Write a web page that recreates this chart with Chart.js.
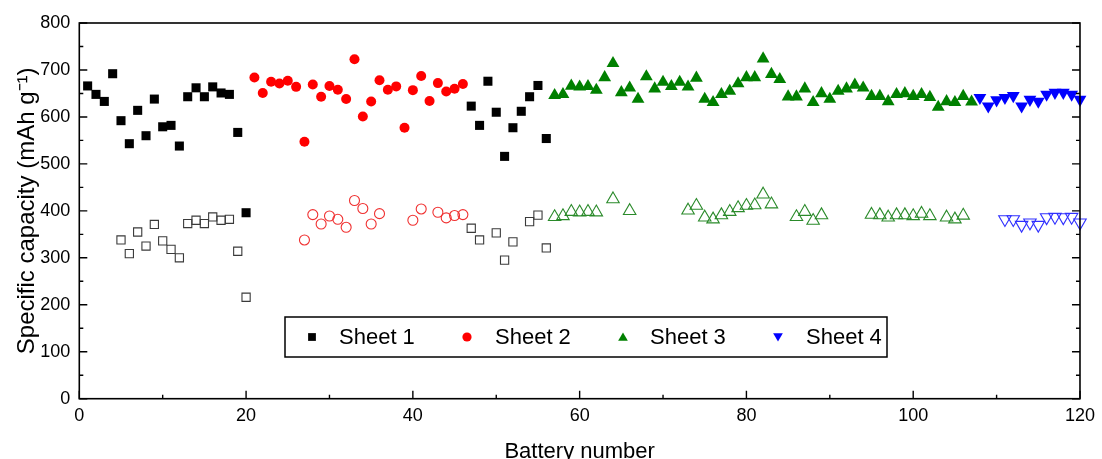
<!DOCTYPE html>
<html>
<head>
<meta charset="utf-8">
<script src="https://cdn.jsdelivr.net/npm/chart.js@4"></script>
<style>
  html, body { margin: 0; padding: 0; background: #fff; overflow: hidden; }
  #wrap { position: relative; width: 1102px; height: 475px; }
</style>
</head>
<body>
<div id="wrap"><canvas id="chart"></canvas></div>
<script>
// battery numbers and capacities
const sheet1Battery = [1,2,3,4,5,6,7,8,9,10,11,12,13,14,15,16,17,18,19,20,47,48,49,50,51,52,53,54,55,56];
const sheet1Charge = [666,648,633,692,592,543,614,560,638,579,582,538,643,662,643,664,651,648,567,396,623,582,676,610,516,577,612,643,667,554];
const sheet1OpenBattery = [5,6,7,8,9,10,11,12,13,14,15,16,17,18,19,20,47,48,50,51,52,54,55,56];
const sheet1Open = [338,309,355,325,371,336,318,300,373,380,373,387,380,382,314,216,363,338,353,295,334,377,391,321];

const sheet2Battery = [21,22,23,24,25,26,27,28,29,30,31,32,33,34,35,36,37,38,39,40,41,42,43,44,45,46];
const sheet2Charge = [684,651,675,671,677,664,547,669,643,666,658,638,723,601,633,678,658,665,577,657,687,634,672,654,660,670];
const sheet2OpenBattery = [27,28,29,30,31,32,33,34,35,36,40,41,43,44,45,46];
const sheet2Open = [338,392,372,389,382,365,422,405,372,394,380,404,397,385,390,392];

const sheet3Battery = [57,58,59,60,61,62,63,64,65,66,67,68,69,70,71,72,73,74,75,76,77,78,79,80,81,82,
  83,84,85,86,87,88,89,90,91,92,93,94,95,96,97,98,99,100,101,102,103,104,105,106,107];
const sheet3Charge = [646,648,666,664,665,657,684,714,652,662,638,686,660,674,665,674,664,683,638,631,648,655,671,684,684,724,
  691,680,643,643,660,631,650,638,655,660,668,662,644,644,633,648,650,644,648,642,621,633,631,644,632];
const sheet3OpenBattery = [57,58,59,60,61,62,64,66,73,74,75,76,77,78,79,80,81,82,83,86,87,88,89,95,96,97,98,99,100,101,102,104,105,106];
const sheet3Open = [387,389,398,397,398,397,425,400,401,411,386,382,391,398,406,411,412,435,414,387,398,379,391,392,391,386,391,391,389,394,389,386,382,390];

const sheet4Battery = [108,109,110,111,112,113,114,115,116,117,118,119,120];
const sheet4Charge = [641,623,636,641,645,623,637,633,648,652,652,648,637];
const sheet4OpenBattery = [111,112,113,114,115,116,117,118,119,120];
const sheet4Open = [382,382,370,375,370,386,387,386,387,375];

const sheetNames = ['Sheet 1', 'Sheet 2', 'Sheet 3', 'Sheet 4'];
const xTickValues = [0, 20, 40, 60, 80, 100, 120];
const yTickValues = [0, 100, 200, 300, 400, 500, 600, 700, 800];

const FONT = 'Liberation Sans, Arial, sans-serif';

function toPoints(xs, ys) {
    return xs.map((x, i) => ({ x: x, y: ys[i] }));
}

// filled = charge marks, open = the lower value set
const styles = [
    { color: '#000000', open: '#3a3a3a', pointStyle: 'rect', rotation: 0, radius: 6.4, openRadius: 5.8 },
    { color: '#ff0000', open: '#f03030', pointStyle: 'circle', rotation: 0, radius: 5, openRadius: 5 },
    { color: '#008000', open: '#2a8a2a', pointStyle: 'triangle', rotation: 0, radius: 7.4, openRadius: 7.2 },
    { color: '#0000ff', open: '#3030ff', pointStyle: 'triangle', rotation: 180, radius: 7.4, openRadius: 7.2 }
];

const filledSets = [
    toPoints(sheet1Battery, sheet1Charge),
    toPoints(sheet2Battery, sheet2Charge),
    toPoints(sheet3Battery, sheet3Charge),
    toPoints(sheet4Battery, sheet4Charge)
];
const openSets = [
    toPoints(sheet1OpenBattery, sheet1Open),
    toPoints(sheet2OpenBattery, sheet2Open),
    toPoints(sheet3OpenBattery, sheet3Open),
    toPoints(sheet4OpenBattery, sheet4Open)
];

const datasets = [];
openSets.forEach((pts, i) => {
    const s = styles[i];
    datasets.push({
        label: sheetNames[i] + ' open',
        data: pts,
        pointStyle: s.pointStyle,
        rotation: s.rotation,
        pointRadius: s.openRadius,
        borderColor: s.open,
        backgroundColor: 'rgba(255,255,255,0)',
        borderWidth: 1.1,
        clip: false
    });
});
filledSets.forEach((pts, i) => {
    const s = styles[i];
    datasets.push({
        label: sheetNames[i],
        data: pts,
        pointStyle: s.pointStyle,
        rotation: s.rotation,
        pointRadius: s.radius,
        borderColor: s.color,
        backgroundColor: s.color,
        borderWidth: 0,
        clip: false
    });
});

// frame with inward major/minor ticks
const frameTicks = {
    id: 'frameTicks',
    afterDraw(chart) {
        const { ctx, chartArea: a, scales } = chart;
        const xs = scales.x, ys = scales.y;
        ctx.save();
        ctx.strokeStyle = '#000';
        ctx.lineWidth = 1.6;
        ctx.strokeRect(a.left, a.top, a.right - a.left, a.bottom - a.top);
        ctx.lineWidth = 1.4;
        ctx.beginPath();
        for (let v = 0; v <= 120; v += 10) {
            const len = v % 20 === 0 ? 8 : 4;
            const px = xs.getPixelForValue(v);
            ctx.moveTo(px, a.bottom);
            ctx.lineTo(px, a.bottom - len);
        }
        for (let v = 0; v <= 800; v += 50) {
            const len = v % 100 === 0 ? 8 : 4;
            const py = ys.getPixelForValue(v);
            ctx.moveTo(a.left, py);
            ctx.lineTo(a.left + len, py);
            ctx.moveTo(a.right, py);
            ctx.lineTo(a.right - len, py);
        }
        ctx.stroke();
        ctx.restore();
    }
};

// boxed legend inside the plot
const boxLegend = {
    id: 'boxLegend',
    afterDraw(chart) {
        const ctx = chart.ctx;
        const box = { left: 285, top: 317, right: 887, bottom: 357 };
        const markerX = [312, 467, 623, 778];
        const textX = [339, 495, 650, 806];
        const cy = (box.top + box.bottom) / 2;
        ctx.save();
        ctx.fillStyle = '#fff';
        ctx.fillRect(box.left, box.top, box.right - box.left, box.bottom - box.top);
        ctx.strokeStyle = '#000';
        ctx.lineWidth = 1.5;
        ctx.strokeRect(box.left, box.top, box.right - box.left, box.bottom - box.top);
        sheetNames.forEach((name, i) => {
            const s = styles[i];
            ctx.fillStyle = s.color;
            ctx.strokeStyle = s.color;
            Chart.helpers.drawPoint(ctx, {
                pointStyle: s.pointStyle,
                rotation: s.rotation,
                radius: s.pointStyle === 'rect' ? 5.5 : (s.pointStyle === 'circle' ? 4.6 : 5.6),
                borderWidth: 0
            }, markerX[i], cy + (s.pointStyle === 'triangle' ? (s.rotation ? -1 : 1) : 0));
            ctx.fillStyle = '#000';
            ctx.font = '22px ' + FONT;
            ctx.textAlign = 'left';
            ctx.textBaseline = 'middle';
            ctx.fillText(name, textX[i], cy + 1);
        });
        ctx.restore();
    }
};

new Chart(document.getElementById('chart'), {
    type: 'scatter',
    data: { datasets: datasets },
    options: {
        responsive: true,
        maintainAspectRatio: false,
        animation: false,
        layout: {
            autoPadding: false,
            padding: { left: 0, right: 15, top: 23, bottom: 0 }
        },
        plugins: {
            legend: { display: false },
            tooltip: { enabled: false }
        },
        scales: {
            x: {
                type: 'linear',
                min: 0,
                max: 120,
                afterFit(scale) { scale.height = 76.3; },
                afterBuildTicks(scale) { scale.ticks = xTickValues.map(v => ({ value: v })); },
                grid: { display: false, drawTicks: false },
                border: { display: false },
                ticks: {
                    color: '#000',
                    padding: 7,
                    maxRotation: 0,
                    font: { family: FONT, size: 18 }
                },
                title: {
                    display: true,
                    text: 'Battery number',
                    color: '#000',
                    font: { family: FONT, size: 22 },
                    padding: { top: 0, bottom: 10 }
                }
            },
            y: {
                type: 'linear',
                min: 0,
                max: 800,
                afterFit(scale) { scale.width = 79.3; },
                afterBuildTicks(scale) { scale.ticks = yTickValues.map(v => ({ value: v })); },
                grid: { display: false, drawTicks: false },
                border: { display: false },
                ticks: {
                    color: '#000',
                    padding: 9,
                    font: { family: FONT, size: 18 }
                },
                title: {
                    display: true,
                    text: 'Specific capacity (mAh g\u207B\u00B9)',
                    color: '#000',
                    font: { family: FONT, size: 24 },
                    padding: { top: 13, bottom: 0 }
                }
            }
        }
    },
    plugins: [frameTicks, boxLegend]
});
</script>
</body>
</html>
